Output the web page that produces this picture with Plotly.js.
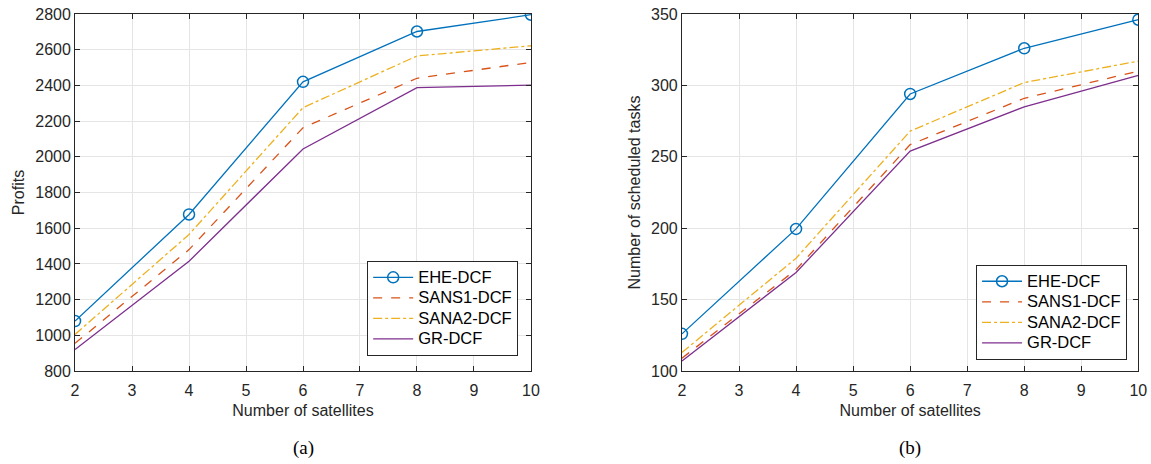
<!DOCTYPE html>
<html>
<head>
<meta charset="utf-8">
<script src="https://cdn.plot.ly/plotly-3.0.1.min.js"></script>
<style>html,body{margin:0;padding:0;background:#fff;}#chart{width:1151px;height:464px;}</style>
</head>
<body>
<div id="chart"></div>
<script>
const satellites = [2, 4, 6, 8, 10];
const seriesNames = ['EHE-DCF', 'SANS1-DCF', 'SANA2-DCF', 'GR-DCF'];
// (a) Profits
const profitsEHE   = [1080, 1677, 2420, 2702, 2796];
const profitsSANS1 = [955, 1480, 2163, 2440, 2529];
const profitsSANA2 = [1005, 1565, 2275, 2565, 2622];
const profitsGR    = [920, 1415, 2044, 2387, 2402];
// (b) Number of scheduled tasks
const tasksEHE   = [126, 199.5, 294, 326, 346];
const tasksSANS1 = [109, 171, 258.5, 291, 310];
const tasksSANA2 = [113, 179, 268, 302, 317];
const tasksGR    = [107, 169, 254, 285, 307];
const xTicks = [2, 3, 4, 5, 6, 7, 8, 9, 10];
const profitTicks = [800, 1000, 1200, 1400, 1600, 1800, 2000, 2200, 2400, 2600, 2800];
const taskTicks = [100, 150, 200, 250, 300, 350];

const colors = ['#0072BD', '#D95319', '#EDB120', '#7E2F8E'];
const dashes = ['solid', 'dash', 'dashdot', 'solid'];

function mk(ys, i, xa, ya, leg) {
  return {
    x: satellites, y: ys, xaxis: xa, yaxis: ya, legend: leg,
    name: '<span style="font-size:16.5px">' + seriesNames[i] + '</span>',
    type: 'scatter', mode: i === 0 ? 'lines+markers' : 'lines',
    line: {color: colors[i], width: 1.3, dash: dashes[i]},
    marker: {symbol: 'circle-open', size: 11, color: colors[i], line: {width: 1.5, color: colors[i]}}
  };
}

const data = [
  mk(profitsEHE, 0, 'x', 'y', 'legend'),
  mk(profitsSANS1, 1, 'x', 'y', 'legend'),
  mk(profitsSANA2, 2, 'x', 'y', 'legend'),
  mk(profitsGR, 3, 'x', 'y', 'legend'),
  mk(tasksEHE, 0, 'x2', 'y2', 'legend2'),
  mk(tasksSANS1, 1, 'x2', 'y2', 'legend2'),
  mk(tasksSANA2, 2, 'x2', 'y2', 'legend2'),
  mk(tasksGR, 3, 'x2', 'y2', 'legend2')
];

const font = {family: 'Liberation Sans, Arial, sans-serif', size: 16, color: '#262626'};
function xax(dom, anchor) {
  return {
    domain: dom, anchor: anchor, range: [2, 10], tickvals: xTicks,
    showgrid: true, gridcolor: '#e5e5e5', gridwidth: 1,
    showline: true, linecolor: '#262626', linewidth: 1, mirror: 'ticks',
    ticks: 'inside', ticklen: 5, tickcolor: '#262626', zeroline: false,
    tickfont: font, ticklabelstandoff: 5,
    title: {text: 'Number of satellites', font: font, standoff: 6}
  };
}
function yax(range, ticks, anchor, title) {
  return {
    domain: [0, 1], anchor: anchor, range: range, tickvals: ticks,
    showgrid: true, gridcolor: '#e5e5e5', gridwidth: 1,
    showline: true, linecolor: '#262626', linewidth: 1, mirror: 'ticks',
    ticks: 'inside', ticklen: 5, tickcolor: '#262626', zeroline: false,
    tickfont: font,
    title: {text: title, font: font, standoff: 6}
  };
}

const legendBase = {
  xanchor: 'left', yanchor: 'top', bgcolor: '#ffffff',
  bordercolor: '#262626', borderwidth: 1, font: {family: font.family, size: 13.5, color: '#000'},
  itemwidth: 40, tracegroupgap: 0
};

const layout = {
  width: 1151, height: 464,
  margin: {l: 0, r: 0, t: 14, b: 93},
  paper_bgcolor: '#fff', plot_bgcolor: '#fff',
  showlegend: true,
  xaxis: xax([0.0652, 0.4613], 'y'),
  yaxis: yax([800, 2800], profitTicks, 'x', 'Profits'),
  xaxis2: xax([0.5925, 0.9890], 'y2'),
  yaxis2: yax([100, 350], taskTicks, 'x2', 'Number of scheduled tasks'),
  legend: Object.assign({x: 0.319, y: 0.308}, legendBase),
  legend2: Object.assign({x: 0.848, y: 0.297}, legendBase),
  annotations: [
    {text: '(a)', xref: 'paper', yref: 'paper', x: 0.2633, y: -0.215, xanchor: 'center', yanchor: 'middle', showarrow: false,
     font: {family: 'Liberation Serif, Times New Roman, serif', size: 19, color: '#000'}},
    {text: '(b)', xref: 'paper', yref: 'paper', x: 0.7908, y: -0.215, xanchor: 'center', yanchor: 'middle', showarrow: false,
     font: {family: 'Liberation Serif, Times New Roman, serif', size: 19, color: '#000'}}
  ]
};

Plotly.newPlot('chart', data, layout, {displayModeBar: false, staticPlot: true});
</script>
</body>
</html>
